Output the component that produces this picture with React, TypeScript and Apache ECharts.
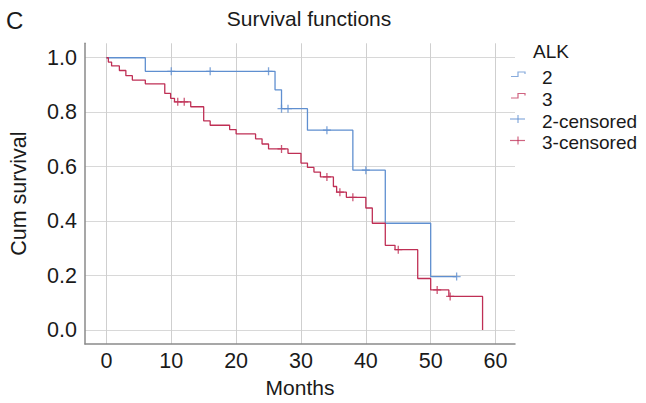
import React, { useEffect, useRef } from "react";
import * as echarts from "echarts";

// Group ALK = 2
const blueTimes = [0, 6, 26, 27, 31, 38, 43, 50, 54];
const blueSurv = [1.0, 0.95, 0.882, 0.813, 0.734, 0.587, 0.392, 0.196, 0.196];
const blueCensored = [10, 16, 25, 27, 28, 34, 40, 54];

// Group ALK = 3
const redTimes = [0, 0.3, 0.8, 2, 3, 4, 6, 9, 9.9, 10.5, 13, 15, 16, 19, 20, 23, 24, 25, 28, 30, 31, 32, 33, 35, 35.5, 37, 40, 41, 43, 44.5, 48, 50, 52.8, 58];
const redSurv = [1.0, 0.984, 0.97, 0.953, 0.934, 0.918, 0.904, 0.869, 0.851, 0.838, 0.82, 0.768, 0.752, 0.736, 0.72, 0.702, 0.683, 0.665, 0.649, 0.613, 0.597, 0.58, 0.562, 0.527, 0.506, 0.487, 0.448, 0.392, 0.311, 0.295, 0.189, 0.147, 0.123, 0];
const redCensored = [11, 12, 27, 34, 36, 38, 45, 51, 53];

const legendLabels = ["2", "3", "2-censored", "3-censored"];

const BLUE = "#5f8fd0";
const RED = "#bf2f55";
const FONT = "'Liberation Sans', Arial, Helvetica, sans-serif";

function survAt(times: number[], surv: number[], t: number) {
  let v = surv[0];
  for (let i = 0; i < times.length; i++) if (times[i] <= t) v = surv[i];
  return v;
}

const CROSS = "path://M0,5 L10,5 M5,0 L5,10";

export default function App() {
  const ref = useRef<HTMLDivElement>(null);
  useEffect(() => {
    if (!ref.current) return;
    const chart = echarts.init(ref.current, null, { renderer: "svg" });
    const legendY = [77.5, 99, 121, 142.5];
    const legendColors = [BLUE, RED, BLUE, RED];
    const legendGraphics: any[] = [];
    legendLabels.forEach((lab, i) => {
      const cy = legendY[i];
      if (i < 2) {
        legendGraphics.push({
          type: "polyline",
          shape: { points: [[511, cy - 1], [518, cy - 1], [518, cy - 5.5], [525, cy - 5.5], [525, cy - 3.5]] },
          style: { stroke: legendColors[i], lineWidth: 1.2, fill: "none", opacity: 0.75 },
        });
      } else {
        legendGraphics.push({
          type: "line",
          shape: { x1: 510, y1: cy - 2, x2: 525, y2: cy - 2 },
          style: { stroke: legendColors[i], lineWidth: 1.2, opacity: 0.75 },
        });
        legendGraphics.push({
          type: "line",
          shape: { x1: 518, y1: cy - 6, x2: 518, y2: cy + 2 },
          style: { stroke: legendColors[i], lineWidth: 1.2, opacity: 0.75 },
        });
      }
      legendGraphics.push({
        type: "text",
        x: 542,
        y: cy,
        style: { text: lab, font: `19px ${FONT}`, fill: "#1a1a1a", textVerticalAlign: "middle" },
      });
    });

    chart.setOption({
      animation: false,
      backgroundColor: "#ffffff",
      graphic: [
        { type: "text", x: 6, y: 20, style: { text: "C", font: `24px ${FONT}`, fill: "#1a1a1a", textVerticalAlign: "middle" } },
        { type: "text", x: 309, y: 18, style: { text: "Survival functions", font: `21px ${FONT}`, fill: "#1a1a1a", textAlign: "center", textVerticalAlign: "middle" } },
        { type: "text", x: 533, y: 51, style: { text: "ALK", font: `19px ${FONT}`, fill: "#1a1a1a", textVerticalAlign: "middle" } },
        ...legendGraphics,
      ],
      grid: { left: 81.7, right: 131, top: 43.3, bottom: 57.3, containLabel: false },
      xAxis: {
        type: "value",
        min: -3.3,
        max: 63,
        minInterval: 10,
        maxInterval: 10,
        name: "Months",
        nameLocation: "middle",
        nameGap: 31,
        nameTextStyle: { fontFamily: FONT, fontSize: 21, color: "#1a1a1a" },
        axisLine: { show: true, onZero: false, lineStyle: { color: "#8a8a8a", width: 1.5 } },
        axisTick: { show: false },
        axisLabel: { showMinLabel: false, showMaxLabel: false, margin: 6, fontFamily: FONT, fontSize: 21.5, color: "#1a1a1a" },
        splitLine: { show: true, showMinLine: false, showMaxLine: false, lineStyle: { color: "#cfcfcf", width: 1 } },
      },
      yAxis: {
        type: "value",
        min: -0.052,
        max: 1.053,
        minInterval: 0.2,
        maxInterval: 0.2,
        name: "Cum survival",
        nameLocation: "middle",
        nameGap: 55,
        nameTextStyle: { fontFamily: FONT, fontSize: 21.5, color: "#1a1a1a" },
        axisLine: { show: true, onZero: false, lineStyle: { color: "#8a8a8a", width: 1.5 } },
        axisTick: { show: false },
        axisLabel: {
          showMinLabel: false,
          showMaxLabel: false,
          margin: 8,
          fontFamily: FONT,
          fontSize: 21.5,
          color: "#1a1a1a",
          formatter: (v: number) => v.toFixed(1),
        },
        splitLine: { show: true, showMinLine: false, showMaxLine: false, lineStyle: { color: "#d8d8d8", width: 1 } },
      },
      series: [
        {
          name: "2",
          type: "line",
          step: "end",
          symbol: "none",
          lineStyle: { color: BLUE, width: 1.3 },
          data: blueTimes.map((t, i) => [t, blueSurv[i]]),
          z: 2,
        },
        {
          name: "3",
          type: "line",
          step: "end",
          symbol: "none",
          lineStyle: { color: RED, width: 1.3 },
          data: redTimes.map((t, i) => [t, redSurv[i]]),
          z: 3,
        },
        {
          name: "2-censored",
          type: "scatter",
          symbol: CROSS,
          symbolSize: 8,
          itemStyle: { color: "none", borderColor: BLUE, borderWidth: 1.3 },
          data: blueCensored.map((t) => [t, survAt(blueTimes, blueSurv, t)]),
          z: 4,
        },
        {
          name: "3-censored",
          type: "scatter",
          symbol: CROSS,
          symbolSize: 8,
          itemStyle: { color: "none", borderColor: RED, borderWidth: 1.3 },
          data: redCensored.map((t) => [t, survAt(redTimes, redSurv, t)]),
          z: 5,
        },
      ],
    });
    return () => chart.dispose();
  }, []);
  return <div ref={ref} style={{ position: "absolute", left: 0, top: 0, width: 646, height: 403 }} />;
}
